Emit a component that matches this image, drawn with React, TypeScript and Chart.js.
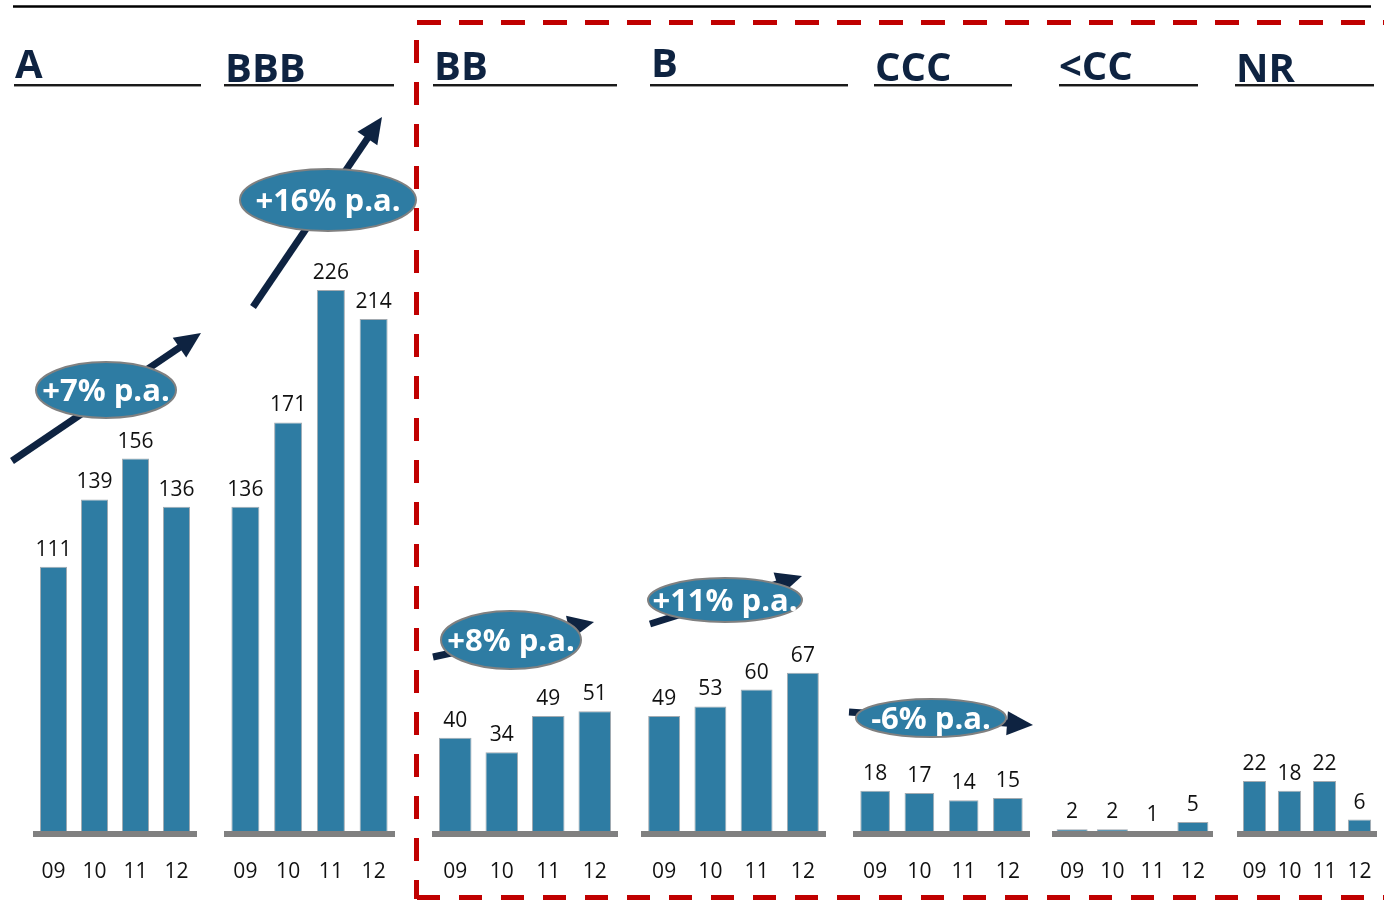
import React, { useEffect, useRef } from "react";
import { Chart, registerables } from "chart.js";

Chart.register(...registerables);

// ---------- data ----------
const years = ["09", "10", "11", "12"];
const ratings = ["A", "BBB", "BB", "B", "CCC", "<CC", "NR"];
const valuesA = [111, 139, 156, 136];
const valuesBBB = [136, 171, 226, 214];
const valuesBB = [40, 34, 49, 51];
const valuesB = [49, 53, 60, 67];
const valuesCCC = [18, 17, 14, 15];
const valuesBelowCC = [2, 2, 1, 5];
const valuesNR = [22, 18, 22, 6];
const growthLabels = ["+7% p.a.", "+16% p.a.", "+8% p.a.", "+11% p.a.", "-6% p.a."];
const yMax = 300;

const seriesByRating = [valuesA, valuesBBB, valuesBB, valuesB, valuesCCC, valuesBelowCC, valuesNR];

// ---------- layout / style ----------
const BAR_COLOR = "#2e7ca3";
const NAVY = "#0e2341";
const FONT = "'Open Sans', 'DejaVu Sans', sans-serif";
const CANVAS_H = 910;

const groupLayout = [
  { left: 33, right: 197, bar: 0.66, headX: 15, headY: 78, ulFrom: 14, ulTo: 201 },
  { left: 224, right: 395, bar: 0.655, headX: 225, headY: 82, ulFrom: 224, ulTo: 394 },
  { left: 432, right: 618, bar: 0.7, headX: 434, headY: 80, ulFrom: 433, ulTo: 617 },
  { left: 641, right: 826, bar: 0.69, headX: 651, headY: 77, ulFrom: 650, ulTo: 848 },
  { left: 853, right: 1030, bar: 0.67, headX: 875, headY: 81, ulFrom: 874, ulTo: 1012 },
  { left: 1052, right: 1213, bar: 0.77, headX: 1059, headY: 80, ulFrom: 1059, ulTo: 1198 },
  { left: 1237, right: 1377, bar: 0.66, headX: 1236, headY: 82, ulFrom: 1235, ulTo: 1374 },
];

const arrowLayout = [
  { x1: 12, y1: 461, x2: 201, y2: 333 },
  { x1: 253, y1: 307, x2: 382, y2: 117 },
  { x1: 433, y1: 657, x2: 594, y2: 622 },
  { x1: 650, y1: 624, x2: 802, y2: 576 },
  { x1: 849, y1: 712, x2: 1033, y2: 725 },
];

const ellipseLayout = [
  { cx: 106, cy: 390, rx: 70, ry: 28 },
  { cx: 328, cy: 200, rx: 88, ry: 31 },
  { cx: 511, cy: 640, rx: 70, ry: 29 },
  { cx: 725, cy: 600, rx: 77, ry: 22 },
  { cx: 931, cy: 718, rx: 75, ry: 19 },
];

const valueLabelPlugin = {
  id: "valueLabels",
  afterDatasetsDraw(chart: any) {
    const ctx = chart.ctx;
    const yScale = chart.scales.y;
    const area = chart.chartArea;
    const y0 = yScale.getPixelForValue(0);
    // grey base line
    ctx.save();
    ctx.fillStyle = "#808080";
    ctx.fillRect(area.left, y0 - 3, area.right - area.left, 6);
    // value labels
    ctx.fillStyle = "#111111";
    ctx.font = `21px ${FONT}`;
    ctx.textAlign = "center";
    ctx.textBaseline = "alphabetic";
    const meta = chart.getDatasetMeta(0);
    const data = chart.data.datasets[0].data;
    meta.data.forEach((el: any, i: number) => {
      ctx.fillText(String(data[i]), el.x, el.y - 11);
    });
    ctx.restore();
  },
};

function GroupChart({ values, layout }: { values: number[]; layout: any }) {
  const ref = useRef<HTMLCanvasElement | null>(null);
  useEffect(() => {
    if (!ref.current) return;
    const chart = new Chart(ref.current, {
      type: "bar",
      data: {
        labels: years,
        datasets: [
          {
            data: values,
            backgroundColor: BAR_COLOR,
            borderColor: "rgba(140,150,158,0.8)",
            borderWidth: 1,
            barPercentage: layout.bar,
            categoryPercentage: 1,
          },
        ],
      },
      options: {
        responsive: false,
        animation: false,
        layout: { padding: { top: 112, bottom: 0, left: 0, right: 0 } },
        plugins: { legend: { display: false }, tooltip: { enabled: false } },
        scales: {
          x: {
            grid: { display: false, drawTicks: false },
            border: { display: false },
            ticks: {
              color: "#111111",
              font: { size: 21, family: FONT, lineHeight: "76px" },
              padding: 0,
              maxRotation: 0,
              autoSkip: false,
            },
          },
          y: { display: false, min: 0, max: yMax },
        },
      },
      plugins: [valueLabelPlugin],
    });
    return () => chart.destroy();
  }, []);
  const w = layout.right - layout.left;
  return (
    <canvas
      ref={ref}
      width={w}
      height={CANVAS_H}
      style={{ position: "absolute", left: layout.left, top: 0, width: w, height: CANVAS_H }}
    />
  );
}

function Arrow({ a }: { a: any }) {
  const dx = a.x2 - a.x1;
  const dy = a.y2 - a.y1;
  const len = Math.sqrt(dx * dx + dy * dy);
  const ux = dx / len;
  const uy = dy / len;
  const nx = -uy;
  const ny = ux;
  const L = 26;
  const W = 12;
  const bx = a.x2 - ux * L;
  const by = a.y2 - uy * L;
  const pts = `${a.x2},${a.y2} ${bx + nx * W},${by + ny * W} ${bx - nx * W},${by - ny * W}`;
  return (
    <g>
      <line x1={a.x1} y1={a.y1} x2={bx + ux * 2} y2={by + uy * 2} stroke={NAVY} strokeWidth={7} />
      <polygon points={pts} fill={NAVY} />
    </g>
  );
}

export default function App() {
  return (
    <div
      style={{
        position: "absolute",
        left: 0,
        top: 0,
        width: 1384,
        height: 900,
        overflow: "hidden",
        background: "#ffffff",
      }}
    >
      {seriesByRating.map((vals, i) => (
        <GroupChart key={ratings[i]} values={vals} layout={groupLayout[i]} />
      ))}
      <svg
        width={1384}
        height={900}
        style={{ position: "absolute", left: 0, top: 0, pointerEvents: "none" }}
      >
        {/* top rule */}
        <line x1={13} y1={6.5} x2={1371} y2={6.5} stroke="#000" strokeWidth={2.5} />
        {/* red dashed box */}
        <g stroke="#c00000" strokeWidth={5} fill="none">
          <line x1={417} y1={22.5} x2={1384} y2={22.5} strokeDasharray="24 18" />
          <line x1={416.5} y1={40} x2={416.5} y2={899} strokeDasharray="23 19" />
          <line x1={417} y1={897.5} x2={1384} y2={897.5} strokeDasharray="23 19" />
        </g>
        {/* headers */}
        {ratings.map((r, i) => {
          const g = groupLayout[i];
          return (
            <g key={r}>
              <text x={g.headX} y={g.headY} fill={NAVY} style={{ font: `bold 40px ${FONT}` }}>
                {r}
              </text>
              <line x1={g.ulFrom} y1={85} x2={g.ulTo} y2={85} stroke="#1a1a1a" strokeWidth={2} />
              <line x1={g.ulFrom} y1={86.5} x2={g.ulTo} y2={86.5} stroke="#9a9a9a" strokeWidth={1} />
            </g>
          );
        })}
        {/* growth arrows + ellipses */}
        {arrowLayout.map((a, i) => (
          <Arrow key={"a" + i} a={a} />
        ))}
        {ellipseLayout.map((e, i) => (
          <g key={"e" + i}>
            <ellipse cx={e.cx} cy={e.cy} rx={e.rx} ry={e.ry} fill={BAR_COLOR} stroke="#808080" strokeWidth={2} />
            <text
              x={e.cx}
              y={e.cy + 11}
              fill="#ffffff"
              textAnchor="middle"
              style={{ font: `bold 31px ${FONT}` }}
            >
              {growthLabels[i]}
            </text>
          </g>
        ))}
      </svg>
    </div>
  );
}
